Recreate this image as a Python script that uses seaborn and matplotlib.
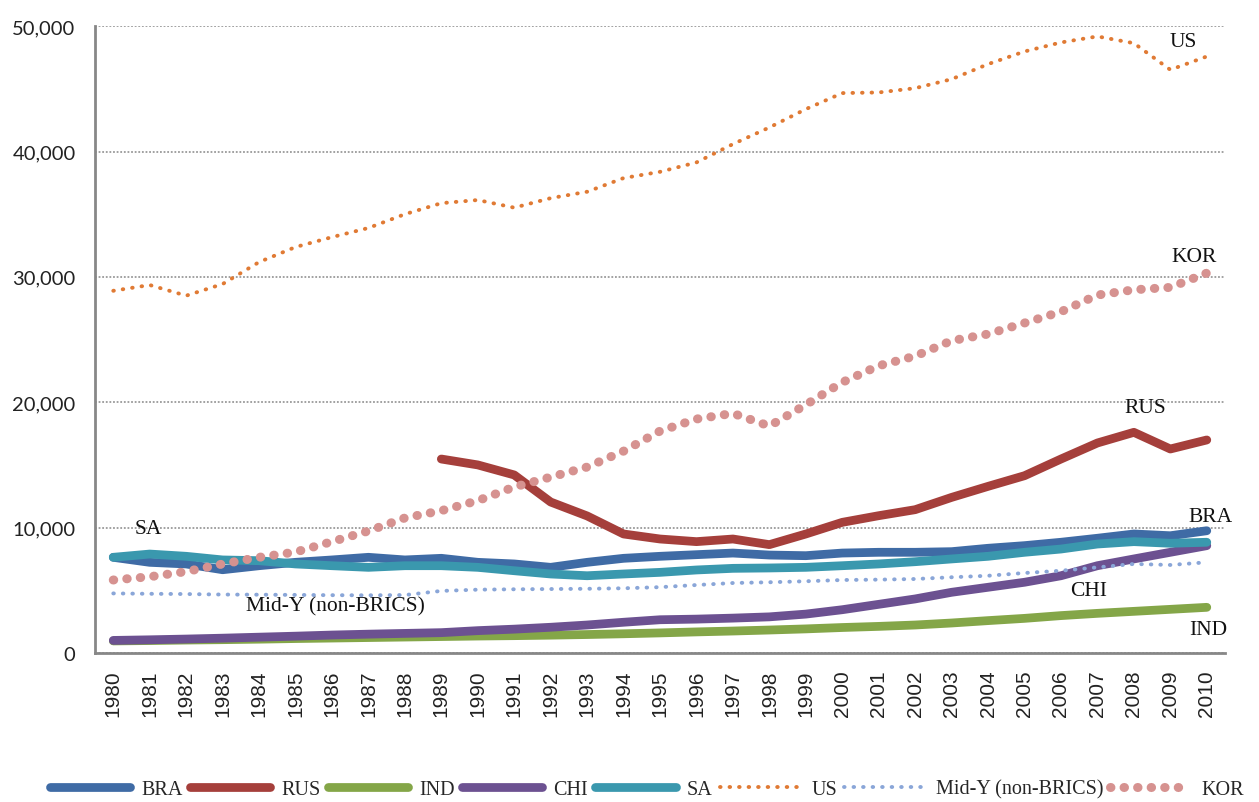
import seaborn as sns
import matplotlib.pyplot as plt
import matplotlib.ticker as mticker
import numpy as np

years = list(range(1980, 2011))
rus_years = list(range(1989, 2011))

bra = [7630, 7230, 7100, 6640, 6960, 7230, 7420, 7630, 7420, 7550, 7230, 7100, 6830, 7230, 7550, 7710,
       7840, 7970, 7810, 7760, 7970, 8030, 8030, 8080, 8350, 8560, 8830, 9150, 9490, 9350, 9750]
rus = [15470, 15000, 14200, 12040, 10930, 9490, 9090, 8880, 9090, 8640, 9490, 10420, 10950, 11430,
       12410, 13290, 14140, 15470, 16750, 17600, 16270, 16990]
ind = [960, 990, 1030, 1060, 1100, 1150, 1190, 1230, 1270, 1310, 1350, 1380, 1420, 1470, 1530, 1600,
       1680, 1750, 1830, 1920, 2030, 2120, 2230, 2390, 2580, 2760, 2980, 3160, 3320, 3480, 3640]
chi = [1000, 1050, 1110, 1180, 1260, 1340, 1430, 1500, 1560, 1620, 1780, 1900, 2050, 2230, 2450, 2650,
       2700, 2780, 2880, 3100, 3450, 3880, 4310, 4840, 5240, 5640, 6160, 6960, 7500, 8030, 8560]
sa = [7630, 7890, 7710, 7420, 7360, 7100, 6960, 6830, 6960, 6960, 6830, 6560, 6300, 6160, 6300, 6430,
      6620, 6750, 6780, 6830, 6960, 7100, 7280, 7500, 7710, 8030, 8290, 8690, 8880, 8750, 8830]
us = [28890, 29350, 28500, 29430, 31180, 32380, 33170, 33900, 35000, 35880, 36130, 35520, 36280, 36790,
      37880, 38380, 39130, 40590, 41920, 43380, 44660, 44710, 45050, 45770, 46970, 47980, 48700, 49180,
      48640, 46520, 47580]
midy = [4750, 4720, 4700, 4660, 4650, 4630, 4610, 4600, 4620, 4950, 5050, 5080, 5100, 5120, 5160, 5250,
        5420, 5580, 5640, 5720, 5820, 5850, 5900, 6040, 6160, 6380, 6560, 6830, 7100, 7020, 7230]
kor = [5820, 6080, 6490, 7100, 7630, 8050, 8880, 9730, 10770, 11350, 12150, 13240, 14030, 14830, 16100,
       17700, 18660, 19110, 18100, 19800, 21590, 22910, 23680, 24910, 25440, 26320, 27220, 28550, 28970,
       29160, 30300]

sns.set_style('white')
plt.rcParams['font.family'] = ['Liberation Serif', 'DejaVu Serif']

fig = plt.figure(figsize=(12.59, 8.03), dpi=100)
ax = fig.add_axes([0.0755, 0.1856, 0.8975, 0.7806])

solid = [
    ('BRA', years, bra, '#3F6BA5'),
    ('RUS', rus_years, rus, '#A53F3B'),
    ('IND', years, ind, '#84A648'),
    ('CHI', years, chi, '#6C5191'),
    ('SA', years, sa, '#3A98AE'),
]
for name, xs, ys, col in solid:
    sns.lineplot(x=xs, y=ys, ax=ax, color=col, lw=6.3, label=name,
                 solid_capstyle='round', solid_joinstyle='round')

dotted = [
    ('US', years, us, '#E07A34', 2.8, (0.15, 2.3)),
    ('Mid-Y (non-BRICS)', years, midy, '#8AA6D8', 2.8, (0.15, 2.3)),
    ('KOR', years, kor, '#D69290', 6.5, (0.05, 1.45)),
]
for name, xs, ys, col, w, dash in dotted:
    sns.lineplot(x=xs, y=ys, ax=ax, color=col, lw=w, label=name,
                 linestyle=(0, dash), dash_capstyle='round')

ax.set_xlim(1979.5, 2010.5)
ax.set_ylim(0, 50000)
ax.set_yticks(range(0, 50001, 10000))
ax.yaxis.set_major_formatter(mticker.FuncFormatter(lambda v, p: f'{int(v):,}'))
ax.set_xticks(years)
ax.set_xticklabels([str(y) for y in years], rotation=90)
ax.set_xticks([y - 0.5 for y in years] + [2010.5], minor=True)

ax.yaxis.grid(True, linestyle=(0, (1, 1)), color='#9A9A9A', lw=1.3)
ax.set_axisbelow(True)
for s in ['top', 'right']:
    ax.spines[s].set_visible(False)
for s in ['left', 'bottom']:
    ax.spines[s].set_color('#878787')
    ax.spines[s].set_linewidth(2)

ax.tick_params(axis='y', length=6, width=2, color='#878787', pad=8)
ax.tick_params(axis='x', which='major', length=0, pad=12)
ax.tick_params(axis='x', which='minor', length=8, width=2, color='#878787')
for lab in ax.get_yticklabels():
    lab.set_family(['Lato', 'DejaVu Sans'])
    lab.set_fontsize(14.5)
    lab.set_color('#222222')
for lab in ax.get_xticklabels():
    lab.set_family(['Liberation Sans', 'DejaVu Sans'])
    lab.set_fontsize(15)
    lab.set_color('#222222')
ax.set_xlabel('')
ax.set_ylabel('')

notes = [
    ('US', 2009.35, 48800),
    ('KOR', 2009.65, 31600),
    ('RUS', 2008.3, 19600),
    ('BRA', 2010.1, 10850),
    ('CHI', 2006.75, 4950),
    ('IND', 2010.05, 1900),
    ('SA', 1980.95, 9900),
    ('Mid-Y (non-BRICS)', 1986.1, 3750),
]
for txt, xv, yv in notes:
    ax.text(xv, yv, txt, ha='center', va='center', fontsize=15.5, color='#111111')

handles, labels = ax.get_legend_handles_labels()
ax.get_legend().remove()
fig.legend(handles, labels, loc='center', bbox_to_anchor=(0.514, 0.016), ncol=8,
           frameon=False, fontsize=14.5, handlelength=4.0, columnspacing=0.35,
           handletextpad=0.55)

fig.savefig('out.png', dpi=100)
